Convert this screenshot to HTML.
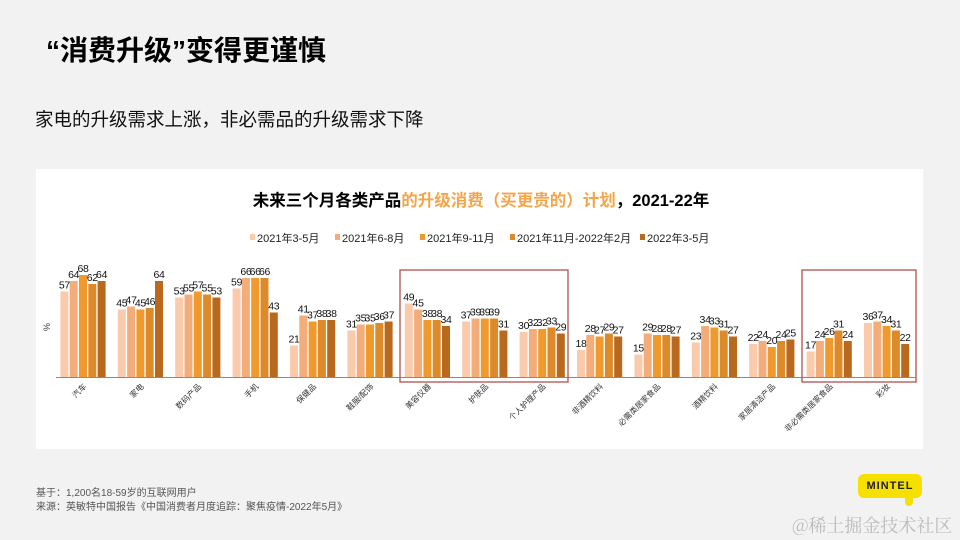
<!DOCTYPE html>
<html><head><meta charset="utf-8">
<style>
body{margin:0;width:960px;height:540px;background:#f2f2f2;overflow:hidden;font-family:"Liberation Sans","Noto Sans CJK SC",sans-serif;position:relative}
.t{position:absolute;white-space:nowrap}
</style></head><body>
<div class="t" style="left:46px;top:29px;font-size:28px;font-weight:bold;color:#000">“消费升级”变得更谨慎</div>
<div class="t" style="left:35px;top:106px;font-size:18.5px;color:#111">家电的升级需求上涨，非必需品的升级需求下降</div>
<div style="position:absolute;left:36px;top:169px;width:887px;height:280px;background:#fff"></div>
<svg id="chart" width="960" height="540" style="position:absolute;left:0;top:0">
<text x="481" y="206" text-anchor="middle" font-size="16.5" font-weight="bold" fill="#000">未来三个月各类产品<tspan fill="#f4a54a">的升级消费（买更贵的）计划</tspan>，2021-22年</text>
<text x="50" y="327" font-size="9" fill="#333" transform="rotate(-90 50 327)" text-anchor="middle">%</text>
<g id="legend"></g>
<g id="bars"></g>
<line x1="56" y1="377.5" x2="916" y2="377.5" stroke="#8a8a8a" stroke-width="1"/>
<rect x="400" y="270" width="168" height="112" fill="none" stroke="#b0524a" stroke-width="1.3"/>
<rect x="802" y="270" width="114" height="112" fill="none" stroke="#b0524a" stroke-width="1.3"/>
</svg>
<div class="t" style="left:36px;top:484px;font-size:10px;color:#555">基于：1,200名18-59岁的互联网用户</div>
<div class="t" style="left:36px;top:498px;font-size:10px;color:#555">来源：英敏特中国报告《中国消费者月度追踪：聚焦疫情-2022年5月》</div>
<div style="position:absolute;left:858px;top:474px;width:64px;height:24px;background:#f5e000;border-radius:6px;font-size:11px;font-weight:bold;color:#222;text-align:center;line-height:24px;letter-spacing:1px">MINTEL</div>
<div style="position:absolute;left:905px;top:496px;width:8px;height:10px;background:#f5e000;border-radius:0 0 4px 4px"></div>
<div class="t" style="left:792px;top:512px;font-size:18px;color:#bbb;font-family:'Noto Serif CJK SC','Noto Sans CJK SC',serif">@稀土掘金技术社区</div>
<script>
const categories=["汽车","家电","数码产品","手机","保健品","鞋服/配饰","美容仪器","护肤品","个人护理产品","非酒精饮料","必需类居家食品","酒精饮料","家居清洁产品","非必需类居家食品","彩妆"];
const seriesNames=["2021年3-5月","2021年6-8月","2021年9-11月","2021年11月-2022年2月","2022年3-5月"];
const s1=[57,45,53,59,21,31,49,37,30,18,15,23,22,17,36];
const s2=[64,47,55,66,41,35,45,39,32,28,29,34,24,24,37];
const s3=[68,45,57,66,37,35,38,39,32,27,28,33,20,26,34];
const s4=[62,46,55,66,38,36,38,39,33,29,28,31,24,31,31];
const s5=[64,64,53,43,38,37,34,31,29,27,27,27,25,24,22];
const series=[s1,s2,s3,s4,s5];
const colors=["#f9cbac","#f3ad7a","#f0992d","#dd8a2a","#b8691d"];
const NS="http://www.w3.org/2000/svg";
const base=377, k=1.5, x0=83, step=57.4, bw=8, bstep=9.3;
const xg=i=>x0+i*step;
const ys=v=>base-v*k;
const g=document.getElementById('bars');
function mk(tag,attrs){const e=document.createElementNS(NS,tag);for(const a in attrs)e.setAttribute(a,attrs[a]);return e;}
categories.forEach((c,i)=>{
  series.forEach((s,j)=>{
    const x=xg(i)+(j-2)*bstep-bw/2;
    const r=mk('rect',{x:x,y:ys(s[i]),width:bw,height:s[i]*k,fill:colors[j]});
    
    
    g.appendChild(r);
    const t=mk('text',{x:x+bw/2,y:ys(s[i])-3,'text-anchor':'middle','font-size':'10.5','letter-spacing':'-0.3',fill:'#111'});
    
    
    t.textContent=s[i];
    g.appendChild(t);
  });
  const cx=xg(i)+4, cy=base+10;
  const l=mk('text',{x:cx,y:cy,'text-anchor':'end','font-size':'8',fill:'#333',transform:'rotate(-45 '+cx+' '+cy+')'});
  
  
  l.textContent=c;
  g.appendChild(l);
});
const lg=document.getElementById('legend');
const lx=[250,335,420,510,640];
seriesNames.forEach((n,j)=>{
  const r=mk('rect',{x:lx[j],y:234,width:5,height:6,fill:colors[j]});
  
  
  lg.appendChild(r);
  const t=mk('text',{x:lx[j]+7,y:242,'font-size':'11',fill:'#222'});
  
  
  t.textContent=n;
  lg.appendChild(t);
});
</script>
</body></html>
